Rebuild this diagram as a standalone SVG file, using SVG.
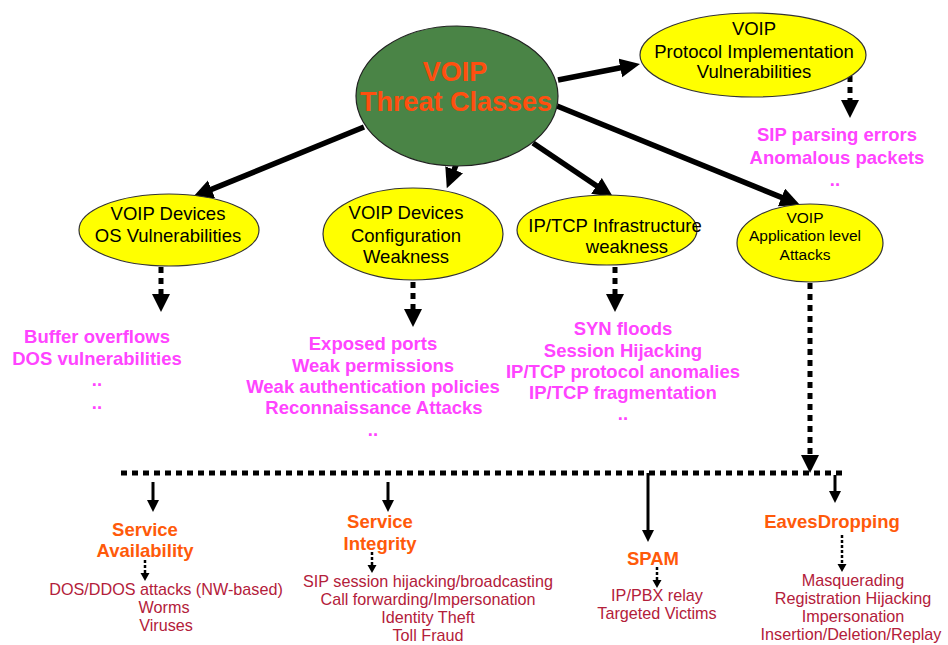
<svg xmlns="http://www.w3.org/2000/svg" width="948" height="645" viewBox="0 0 948 645">
<defs>
<style>
text{font-family:"Liberation Sans",Arial,sans-serif;text-anchor:middle}
.y{fill:#ffff00;stroke:#333;stroke-width:1.2}
.g{fill:#4a8446;stroke:#222;stroke-width:1.2}
.title{font-size:27px;font-weight:bold;fill:#ff4f0f}
.node{font-size:18.5px;fill:#000}
.nsm{font-size:15.5px;fill:#000}
.pink{font-size:18.5px;font-weight:bold;fill:#ff44ff}
.cat{font-size:18.5px;font-weight:bold;fill:#ff5a0a}
.item{font-size:16.2px;fill:#b3203a}
.thick{stroke:#000;stroke-width:5.5;fill:none;marker-end:url(#bh)}
.dot{stroke:#000;stroke-width:5;fill:none;stroke-dasharray:6 5}
.darr{marker-end:url(#dh)}
.sarr{stroke:#000;stroke-width:3;fill:none;marker-end:url(#sh)}
.tdot{stroke:#000;stroke-width:2.5;fill:none;stroke-dasharray:3 2;marker-end:url(#th)}
</style>
<marker id="bh" markerUnits="userSpaceOnUse" markerWidth="22" markerHeight="20" refX="8" refY="9.5" orient="auto"><path d="M0,0 L20,9.5 L0,19 z" fill="#000"/></marker>
<marker id="dh" markerUnits="userSpaceOnUse" markerWidth="20" markerHeight="20" refX="2" refY="9" orient="auto"><path d="M0,0 L18,9 L0,18 z" fill="#000"/></marker>
<marker id="sh" markerUnits="userSpaceOnUse" markerWidth="14" markerHeight="14" refX="2" refY="6" orient="auto"><path d="M0,0 L12,6 L0,12 z" fill="#000"/></marker>
<marker id="th" markerUnits="userSpaceOnUse" markerWidth="10" markerHeight="10" refX="1" refY="4.5" orient="auto"><path d="M0,0 L8,4.5 L0,9 z" fill="#000"/></marker>
</defs>
<rect width="948" height="645" fill="#fff"/>
<g id="connectors">
<line class="thick" x1="558" y1="80" x2="628.2" y2="66.3"/>
<line class="thick" x1="557" y1="106" x2="788.9" y2="200.4"/>
<line class="thick" x1="364" y1="127" x2="204.1" y2="192.4"/>
<line class="thick" x1="456" y1="165" x2="451.2" y2="177.2"/>
<line class="thick" x1="533" y1="143" x2="603.1" y2="190.3"/>
<line class="dot darr" x1="850" y1="76" x2="850" y2="102"/>
<line class="dot darr" x1="161" y1="267" x2="161" y2="296"/>
<line class="dot darr" x1="413" y1="282" x2="413" y2="311"/>
<line class="dot darr" x1="615" y1="267" x2="615" y2="296"/>
<line class="dot darr" x1="810" y1="283" x2="810" y2="457"/>
<line class="dot" x1="121" y1="473" x2="843" y2="473"/>
<line class="sarr" x1="153" y1="482" x2="153" y2="502"/>
<line class="sarr" x1="388" y1="482" x2="388" y2="502"/>
<line class="sarr" x1="648" y1="473" x2="648" y2="532"/>
<line class="sarr" x1="835" y1="475" x2="835" y2="493"/>
<line class="tdot" x1="145" y1="560" x2="145" y2="574"/>
<line class="tdot" x1="372" y1="552" x2="372" y2="566"/>
<line class="tdot" x1="657" y1="567" x2="657" y2="581"/>
<line class="tdot" x1="842" y1="535" x2="842" y2="565"/>
</g>
<g id="threat-classes">
<ellipse class="g" cx="457" cy="96" rx="101" ry="70"/>
<text class="title" x="455" y="81">VOIP</text>
<text class="title" x="456" y="111">Threat Classes</text>
</g>
<g id="protocol-impl">
<ellipse class="y" cx="753" cy="55" rx="113" ry="42"/>
<text class="node" x="754" y="35">VOIP</text>
<text class="node" x="754" y="58">Protocol Implementation</text>
<text class="node" x="754" y="78">Vulnerabilities</text>
</g>
<g id="protocol-list">
<text class="pink" x="837" y="141">SIP parsing errors</text>
<text class="pink" x="837" y="164">Anomalous packets</text>
<text class="pink" x="835" y="186">..</text>
</g>
<g id="os-vuln">
<ellipse class="y" cx="169" cy="230" rx="90" ry="36"/>
<text class="node" x="168" y="220">VOIP Devices</text>
<text class="node" x="168" y="242">OS Vulnerabilities</text>
</g>
<g id="os-list">
<text class="pink" x="97" y="343">Buffer overflows</text>
<text class="pink" x="97" y="365">DOS vulnerabilities</text>
<text class="pink" x="97" y="386">..</text>
<text class="pink" x="97" y="409">..</text>
</g>
<g id="config-weak">
<ellipse class="y" cx="413" cy="234" rx="90" ry="46"/>
<text class="node" x="406" y="219">VOIP Devices</text>
<text class="node" x="406" y="242">Configuration</text>
<text class="node" x="406" y="263">Weakness</text>
</g>
<g id="config-list">
<text class="pink" x="373" y="350">Exposed ports</text>
<text class="pink" x="373" y="372">Weak permissions</text>
<text class="pink" x="373" y="393">Weak authentication policies</text>
<text class="pink" x="374" y="414">Reconnaissance Attacks</text>
<text class="pink" x="373" y="436">..</text>
</g>
<g id="iptcp">
<ellipse class="y" cx="607" cy="230" rx="90" ry="35"/>
<text class="node" x="615" y="232">IP/TCP Infrastructure</text>
<text class="node" x="627" y="253">weakness</text>
</g>
<g id="iptcp-list">
<text class="pink" x="623" y="335">SYN floods</text>
<text class="pink" x="623" y="357">Session Hijacking</text>
<text class="pink" x="623" y="378">IP/TCP protocol anomalies</text>
<text class="pink" x="623" y="399">IP/TCP fragmentation</text>
<text class="pink" x="623" y="420">..</text>
</g>
<g id="app-attacks">
<ellipse class="y" cx="810" cy="243" rx="73" ry="39"/>
<text class="nsm" x="805" y="223">VOIP</text>
<text class="nsm" x="805" y="241">Application level</text>
<text class="nsm" x="805" y="260">Attacks</text>
</g>
<g id="service-availability">
<text class="cat" x="145" y="536">Service</text>
<text class="cat" x="145" y="557">Availability</text>
<text class="item" x="166" y="595">DOS/DDOS attacks (NW-based)</text>
<text class="item" x="164" y="613">Worms</text>
<text class="item" x="166" y="631">Viruses</text>
</g>
<g id="service-integrity">
<text class="cat" x="380" y="528">Service</text>
<text class="cat" x="380" y="550">Integrity</text>
<text class="item" x="428" y="587">SIP session hijacking/broadcasting</text>
<text class="item" x="428" y="605">Call forwarding/Impersonation</text>
<text class="item" x="428" y="623">Identity Theft</text>
<text class="item" x="428" y="641">Toll Fraud</text>
</g>
<g id="spam">
<text class="cat" x="653" y="565">SPAM</text>
<text class="item" x="657" y="601">IP/PBX relay</text>
<text class="item" x="657" y="619">Targeted Victims</text>
</g>
<g id="eavesdropping">
<text class="cat" x="832" y="528">EavesDropping</text>
<text class="item" x="853" y="586">Masquerading</text>
<text class="item" x="853" y="604">Registration Hijacking</text>
<text class="item" x="853" y="622">Impersonation</text>
<text class="item" x="851" y="640">Insertion/Deletion/Replay</text>
</g>
</svg>
